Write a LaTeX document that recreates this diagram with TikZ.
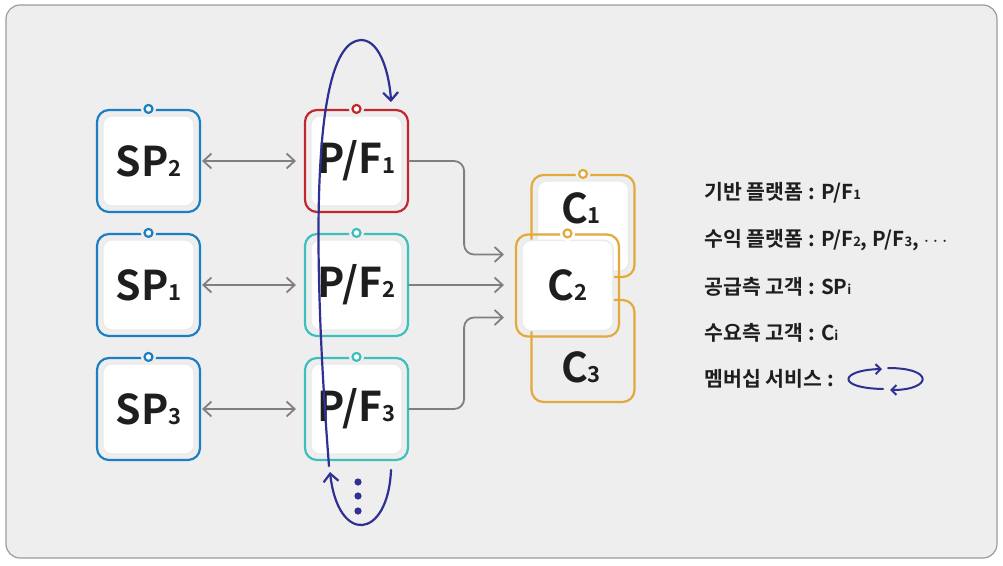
\documentclass[tikz,border=0pt]{standalone}
\usepackage{fontspec}
\setmainfont{Noto Sans CJK KR}[BoldFont={* Bold}]
\usetikzlibrary{arrows.meta,calc,positioning}
\definecolor{memPanel}{HTML}{EEEEEE}
\definecolor{memFrame}{HTML}{9C9C9C}
\definecolor{memBlue}{HTML}{1A7FC3}
\definecolor{memRed}{HTML}{C1272D}
\definecolor{memTeal}{HTML}{3CBFBE}
\definecolor{memGold}{HTML}{E2A93B}
\definecolor{memNavy}{HTML}{2E3192}
\definecolor{memLink}{HTML}{7F7F7F}
\definecolor{memInk}{HTML}{1E1E1E}
\newcommand{\sub}[1]{{\fontsize{22}{22}\selectfont #1}}
\newcommand{\lsub}[1]{{\fontsize{13}{13}\selectfont #1}}
\newcommand{\unitbox}[6][memPanel]{%
  \node[ubox,draw=#5] (#2) at (#3,#4) {};
  \path[uinner] ([shift={(7,7)}]#2.north west) rectangle ([shift={(-7,-7)}]#2.south east);
  \fill[#1] (#2.north) circle (7.5pt);
  \node[ring,draw=#5] at (#2.north) {};
  \node[boxlabel] at (#2) {#6};}

\begin{document}
\begin{tikzpicture}[x=1pt,y=-1pt,>=Latex,line cap=round,line join=round]
\useasboundingbox (0,0) rectangle (1003,565);
\path[draw=memFrame,fill=memPanel,line width=1.2pt,rounded corners=14pt] (6,5) rectangle (997,558);
\tikzset{ubox/.style={minimum width=103pt,minimum height=102pt,inner sep=0pt,line width=2.2pt,rounded corners=12pt},uinner/.style={fill=white,draw=black!8,line width=1.5pt,rounded corners=9pt},ring/.style={circle,fill=white,line width=2.2pt,minimum size=8pt,inner sep=0pt},boxlabel/.style={text=memInk,font=\fontsize{41}{41}\selectfont\bfseries},legend/.style={anchor=west,text=memInk,font=\fontsize{20.5}{24}\selectfont\bfseries},link/.style={draw=memLink,line width=1.8pt,rounded corners=10pt,arrows={Straight Barb[length=8pt,width=15pt]-Straight Barb[length=8pt,width=15pt]}},member/.style={draw=memNavy,line width=2.2pt,-{Straight Barb[length=8pt,width=15pt]}}}
\unitbox{sp2}{148.5}{161}{memBlue}{SP\sub{2}}
\unitbox{sp1}{148.5}{285}{memBlue}{SP\sub{1}}
\unitbox{sp3}{148.5}{409}{memBlue}{SP\sub{3}}
\unitbox{pf1}{356.5}{161}{memRed}{P/F\sub{1}}
\unitbox{pf2}{356.5}{285}{memTeal}{P/F\sub{2}}
\unitbox{pf3}{356.5}{409}{memTeal}{P/F\sub{3}}
\node[ubox,draw=memGold] (c1) at (583,226) {};
\path[uinner] ([shift={(7,7)}]c1.north west) rectangle ([shift={(-7,-7)}]c1.south east);
\fill[memPanel] (c1.north) circle (7.5pt);
\node[ring,draw=memGold] at (c1.north) {};
\node[boxlabel] at (581,208) {C\sub{1}};
\node[ubox,draw=memGold] (c3) at (583,351) {};
\node[boxlabel] at (581,367) {C\sub{3}};
\unitbox[white]{c2}{567.5}{285.5}{memGold}{C\sub{2}}
\draw[link,shorten >=8pt,shorten <=1pt] (sp2) -- (pf1);
\draw[link,shorten >=8pt,shorten <=1pt] (sp1) -- (pf2);
\draw[link,shorten >=8pt,shorten <=1pt] (sp3) -- (pf3);
\draw[link,arrows={-Straight Barb[length=8pt,width=15pt]},shorten >=11pt] (pf1.east) -- ++(55,0) |- ([yshift=31pt]c2.west);
\draw[link,arrows={-Straight Barb[length=8pt,width=15pt]},shorten >=11pt] (pf2.east) -- (pf2.east -| c2.west);
\draw[link,arrows={-Straight Barb[length=8pt,width=15pt]},shorten >=11pt] (pf3.east) -- ++(55,0) |- ([yshift=-32pt]c2.west);
\draw[member] (391,470) .. controls (388,540) and (338,545) .. (330,472);
\draw[member] (329,466) .. controls (316,300) and (305,42) .. (361,40) .. controls (382,40) and (390,80) .. (391,102);
\foreach \dy in {482,496,511} \fill[memNavy] (358,\dy) circle (3.6pt);
\node[legend] (base) at (701,193) {기반 플랫폼 : P/F\lsub{1}};
\node[legend] (profit) at (701,240) {수익 플랫폼 : P/F\lsub{2}, P/F\lsub{3}, $\cdots$};
\node[legend] (supply) at (701,287) {공급측 고객 : SP\lsub{i}};
\node[legend] (demand) at (701,333) {수요측 고객 : C\lsub{i}};
\node[legend] (service) at (701,379) {멤버십 서비스 :};
\draw[member,line width=2pt,-{Straight Barb[length=5pt,width=10pt]}] (883,389) .. controls (835,388) and (840,370) .. (882,369);
\draw[member,line width=2pt,-{Straight Barb[length=5pt,width=10pt]}] (888,368) .. controls (935,368) and (932,390) .. (890,390);
\end{tikzpicture}
\end{document}
